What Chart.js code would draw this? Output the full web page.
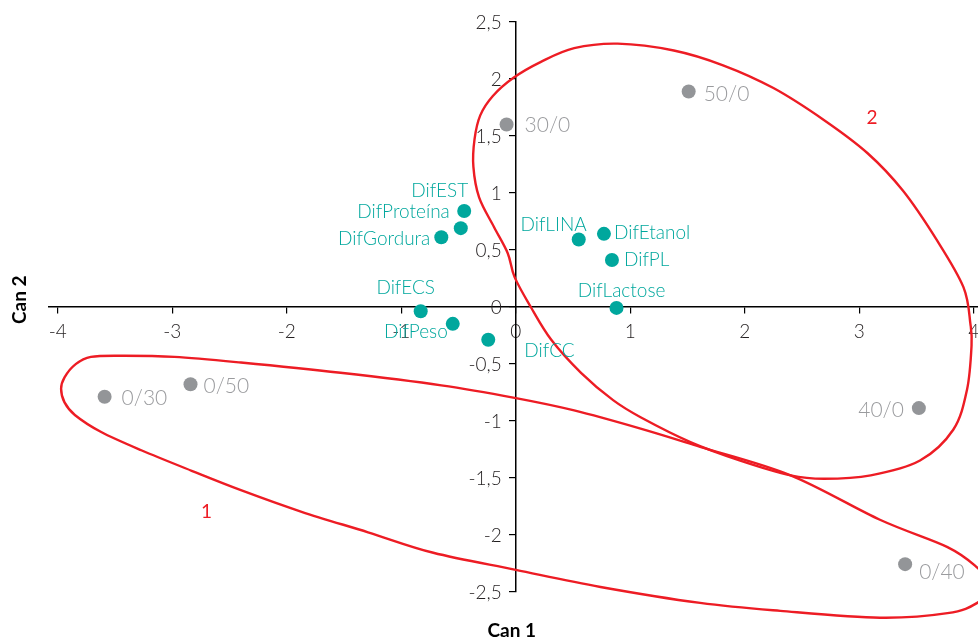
<!DOCTYPE html>
<html>
<head>
<meta charset="utf-8">
<title>Can 1 × Can 2</title>
<style>
  html, body { margin: 0; padding: 0; background: #ffffff; overflow: hidden; }
  #wrap { width: 978px; height: 639px; overflow: hidden; position: relative; }
  canvas { display: block; }
</style>
<script src="https://cdn.jsdelivr.net/npm/chart.js@4.4.1/dist/chart.umd.min.js"></script>
</head>
<body>
<div id="wrap"><canvas id="c" width="990" height="639"></canvas></div>
<script>
// Treatment scores (grey points)
const treatmentLabels = ['0/30', '0/50', '30/0', '50/0', '40/0', '0/40'];
const treatmentCan1 = [-3.59, -2.84, -0.08, 1.51, 3.52, 3.40];
const treatmentCan2 = [-0.79, -0.68, 1.60, 1.89, -0.89, -2.26];

// Variable loadings (teal points)
const variableLabels = ['DifEST', 'DifProteína', 'DifGordura', 'DifLINA', 'DifEtanol',
                        'DifPL', 'DifLactose', 'DifECS', 'DifPeso', 'DifCC'];
const variableCan1 = [-0.45, -0.48, -0.65, 0.55, 0.77, 0.84, 0.88, -0.83, -0.55, -0.24];
const variableCan2 = [0.84, 0.69, 0.61, 0.59, 0.64, 0.41, -0.01, -0.04, -0.15, -0.29];

// Axis ticks
const xTicks = [-4, -3, -2, -1, 0, 1, 2, 3, 4];
const yTicks = [-2.5, -2, -1.5, -1, -0.5, 0, 0.5, 1, 1.5, 2, 2.5];

// Group outlines (closed contours, traced clockwise)
const group1Can1 = [-3.42, -2.98, -2.40, -1.53, -0.65, -0.01, 0.51, 1.09, 1.61, 2.40, 3.18,
                    3.77, 4.03, 4.16, 4.03, 3.77, 3.18, 2.31, 1.61, 0.74, 0.00, -0.72, -1.29,
                    -1.87, -2.40, -2.83, -3.27, -3.62, -3.85, -3.94, -3.97, -3.94, -3.85, -3.71];
const group1Can2 = [-0.43, -0.44, -0.49, -0.58, -0.69, -0.80, -0.91, -1.07, -1.23, -1.48, -1.87,
                    -2.11, -2.29, -2.45, -2.60, -2.69, -2.73, -2.67, -2.60, -2.46, -2.31, -2.16, -1.98,
                    -1.80, -1.61, -1.44, -1.26, -1.10, -0.95, -0.84, -0.72, -0.62, -0.51, -0.44];
const group2Can1 = [0.89, 1.38, 1.81, 2.25, 2.69, 3.07, 3.38, 3.68, 3.91, 3.97, 3.98, 3.94, 3.82,
                    3.53, 3.10, 2.69, 2.40, 1.96, 1.53, 1.09, 0.85, 0.57, 0.31, 0.13, -0.01,
                    -0.07, -0.19, -0.32, -0.37, -0.36, -0.31, -0.20, -0.02, 0.22, 0.51];
const group2Can2 = [2.31, 2.25, 2.12, 1.92, 1.64, 1.35, 1.02, 0.58, 0.17, -0.15, -0.34, -0.73, -1.08,
                    -1.35, -1.48, -1.51, -1.48, -1.35, -1.19, -0.97, -0.82, -0.58, -0.29, 0.00, 0.26,
                    0.47, 0.70, 0.96, 1.23, 1.47, 1.68, 1.85, 2.01, 2.15, 2.27];
const groupNames = ['1', '2'];
const groupNameCan1 = [-2.70, 3.11];
const groupNameCan2 = [-1.80, 1.66];

// Label placement relative to each point: [dx, dy, textAlign]
const treatmentLabelLayout = [
  [17, 2, 'left'], [13, 2, 'left'], [18, 1, 'left'],
  [15, 3, 'left'], [-15, 2, 'right'], [14, 8, 'left']
];
const variableLabelLayout = [
  [4, -20, 'right'], [-11, -16, 'right'], [-11, 2, 'right'], [8, -15, 'right'],
  [10, -1, 'left'], [12, 0, 'left'], [5, -17, 'center'], [-15, -23, 'center'],
  [-5, 8, 'right'], [36, 11, 'left']
];

const TEAL = '#00a79d';
const GREY = '#939598';
const GREY_TEXT = '#9a9b9e';
const RED = '#ed1c24';
const INK = '#231f20';
const FONT = "Lato, 'Open Sans', 'DejaVu Sans', sans-serif";
const TICK_SIZE = 19;
const TICK_FONT = '300 ' + TICK_SIZE + 'px ' + FONT;

const fmt = v => String(v).replace('.', ',');
const toPoints = (xs, ys) => xs.map((x, i) => ({ x: x, y: ys[i] }));

// Text next to each point
const pointLabels = {
  id: 'pointLabels',
  afterDatasetsDraw(chart) {
    const ctx = chart.ctx;
    chart.data.datasets.forEach((ds, di) => {
      if (!ds.pointText) return;
      const meta = chart.getDatasetMeta(di);
      ctx.save();
      ctx.font = ds.textFont;
      ctx.fillStyle = ds.textColor;
      ctx.textBaseline = 'middle';
      meta.data.forEach((el, i) => {
        const [dx, dy, align] = ds.textLayout[i];
        ctx.textAlign = align;
        ctx.fillText(ds.pointText[i], el.x + dx, el.y + dy);
      });
      ctx.restore();
    });
  }
};

// Smooth closed outlines around the groups, with their names
const groupOutlines = {
  id: 'groupOutlines',
  afterDatasetsDraw(chart) {
    const ctx = chart.ctx;
    const xs = chart.scales.x, ys = chart.scales.y;
    const outlines = [[group1Can1, group1Can2], [group2Can1, group2Can2]];
    ctx.save();
    ctx.strokeStyle = RED;
    ctx.lineWidth = 2.4;
    ctx.lineJoin = 'round';
    outlines.forEach(([cx, cy]) => {
      const p = cx.map((v, i) => [xs.getPixelForValue(v), ys.getPixelForValue(cy[i])]);
      const n = p.length;
      ctx.beginPath();
      ctx.moveTo(p[0][0], p[0][1]);
      for (let i = 0; i < n; i++) {
        const p0 = p[(i - 1 + n) % n], p1 = p[i], p2 = p[(i + 1) % n], p3 = p[(i + 2) % n];
        ctx.bezierCurveTo(
          p1[0] + (p2[0] - p0[0]) / 6, p1[1] + (p2[1] - p0[1]) / 6,
          p2[0] - (p3[0] - p1[0]) / 6, p2[1] - (p3[1] - p1[1]) / 6,
          p2[0], p2[1]);
      }
      ctx.closePath();
      ctx.stroke();
    });
    ctx.fillStyle = RED;
    ctx.font = '400 19px ' + FONT;
    ctx.textAlign = 'center';
    ctx.textBaseline = 'middle';
    groupNames.forEach((name, i) => {
      ctx.fillText(name, xs.getPixelForValue(groupNameCan1[i]), ys.getPixelForValue(groupNameCan2[i]));
    });
    ctx.restore();
  }
};

// Vertical-axis tick labels sit to the left of the tick marks on the centred axis
const yTickLabels = {
  id: 'yTickLabels',
  afterDraw(chart) {
    const ctx = chart.ctx;
    const xs = chart.scales.x, ys = chart.scales.y;
    const left = xs.getPixelForValue(0) - 14;
    ctx.save();
    ctx.font = TICK_FONT;
    ctx.fillStyle = INK;
    ctx.textAlign = 'right';
    ctx.textBaseline = 'middle';
    ys.ticks.forEach(t => {
      ctx.fillText(fmt(t.value), left, ys.getPixelForValue(t.value) + 1);
    });
    ctx.restore();
  }
};

// Axis titles sit at the figure edges, away from the centred axes
const axisTitles = {
  id: 'axisTitles',
  afterDraw(chart) {
    const ctx = chart.ctx;
    const xs = chart.scales.x, ys = chart.scales.y;
    ctx.save();
    ctx.fillStyle = '#000000';
    ctx.font = '700 19px ' + FONT;
    ctx.textAlign = 'center';
    ctx.textBaseline = 'middle';
    ctx.fillText('Can 1', xs.getPixelForValue(0) - 4, chart.chartArea.bottom + 39);
    ctx.translate(20, ys.getPixelForValue(0) - 7);
    ctx.rotate(-Math.PI / 2);
    ctx.fillText('Can 2', 0, 0);
    ctx.restore();
  }
};

const gridCommon = {
  display: true, drawOnChartArea: false, drawTicks: true,
  tickLength: 6, color: '#000000', lineWidth: 1.2
};
const borderCommon = { display: true, color: '#000000', width: 1.5 };

new Chart(document.getElementById('c'), {
  type: 'scatter',
  data: {
    datasets: [
      {
        label: 'Tratamentos',
        data: toPoints(treatmentCan1, treatmentCan2),
        backgroundColor: GREY, borderWidth: 0,
        pointRadius: 7, pointHoverRadius: 7,
        pointText: treatmentLabels, textLayout: treatmentLabelLayout,
        textFont: '300 21px ' + FONT, textColor: GREY_TEXT
      },
      {
        label: 'Variáveis',
        data: toPoints(variableCan1, variableCan2),
        backgroundColor: TEAL, borderWidth: 0,
        pointRadius: 7, pointHoverRadius: 7,
        pointText: variableLabels, textLayout: variableLabelLayout,
        textFont: '300 19px ' + FONT, textColor: TEAL
      }
    ]
  },
  options: {
    responsive: false,
    animation: false,
    events: [],
    layout: { padding: { left: 48.5, right: 6.5, top: 22, bottom: 47.5 } },
    plugins: { legend: { display: false }, tooltip: { enabled: false } },
    scales: {
      x: {
        type: 'linear',
        min: -4.08, max: 4.08,
        position: { y: 0 },
        grid: gridCommon,
        border: borderCommon,
        ticks: {
          color: INK, autoSkip: false, maxRotation: 0, padding: 8,
          font: { family: FONT, size: TICK_SIZE, weight: '300' },
          callback: v => fmt(v)
        },
        afterBuildTicks: s => { s.ticks = xTicks.map(v => ({ value: v })); }
      },
      y: {
        type: 'linear',
        min: -2.5, max: 2.5,
        position: { x: 0 },
        grid: gridCommon,
        border: borderCommon,
        ticks: { display: false },
        afterBuildTicks: s => { s.ticks = yTicks.map(v => ({ value: v })); }
      }
    }
  },
  plugins: [groupOutlines, pointLabels, yTickLabels, axisTitles]
});
</script>
</body>
</html>
